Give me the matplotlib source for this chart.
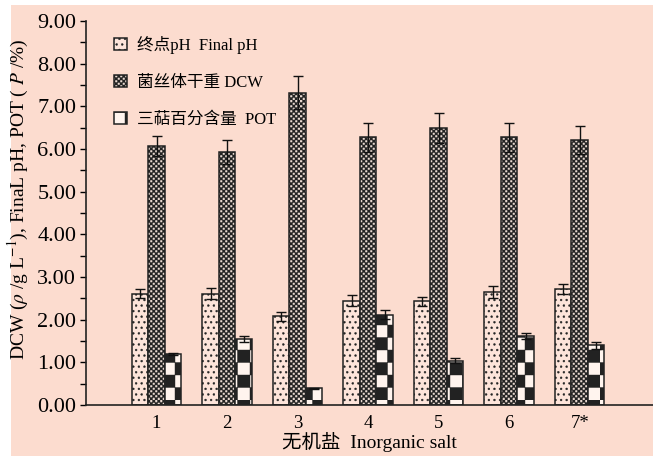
import numpy as np
import matplotlib
matplotlib.use('Agg')
import matplotlib.pyplot as plt
import matplotlib.hatch as mhatch
from matplotlib.path import Path
from matplotlib.patches import Rectangle
from matplotlib.ticker import MultipleLocator, FormatStrFormatter

plt.rcParams['font.family'] = ['Liberation Serif', 'Noto Sans CJK SC']
plt.rcParams['mathtext.fontset'] = 'stix'
plt.rcParams['hatch.linewidth'] = 0.3

# data
groups = ['1', '2', '3', '4', '5', '6', '7*']
final_ph = [2.61, 2.61, 2.08, 2.44, 2.43, 2.65, 2.71]
final_ph_err = [0.11, 0.13, 0.10, 0.13, 0.11, 0.14, 0.12]
dcw = [6.07, 5.93, 7.32, 6.27, 6.49, 6.27, 6.21]
dcw_err = [0.23, 0.28, 0.39, 0.34, 0.36, 0.33, 0.33]
pot = [1.20, 1.54, 0.39, 2.12, 1.04, 1.62, 1.40]
pot_err = [0.03, 0.07, 0.02, 0.10, 0.06, 0.07, 0.08]

labels = ['终点pH  Final pH', '菌丝体干重 DCW', '三萜百分含量  POT']


# checkerboard hatch, takes the place of the '*' (stars) pattern
class CheckerHatch(mhatch.HatchPatternBase):
    sizes = {1: 8, 2: 40}

    def __init__(self, hatch, density):
        c = hatch.count('*')
        self.num = self.sizes.get(c, 8 * c) if c else 0
        self.num_vertices = ((self.num * self.num + 1) // 2) * 5

    def set_vertices_and_codes(self, vertices, codes):
        s = 1.0 / self.num
        k = 0
        for i in range(self.num):
            for j in range(self.num):
                if (i + j) % 2:
                    continue
                x0, y0 = i * s, j * s
                vertices[k:k + 5] = [[x0, y0], [x0 + s, y0], [x0 + s, y0 + s],
                                     [x0, y0 + s], [x0, y0]]
                codes[k:k + 5] = [Path.MOVETO, Path.LINETO, Path.LINETO,
                                  Path.LINETO, Path.CLOSEPOLY]
                k += 5


mhatch._hatch_types[mhatch._hatch_types.index(mhatch.Stars)] = CheckerHatch
mhatch.SmallFilledCircles.size = 0.17

bg = '#fcdccf'
fig = plt.figure(figsize=(6.53, 4.59), dpi=100, facecolor='white')
fig.patches.append(Rectangle((11 / 653, 3 / 459), 1, 1 - 8 / 459,
                             transform=fig.transFigure, facecolor=bg,
                             edgecolor='none', zorder=-10))
ax = fig.add_axes([86 / 653, 54 / 459, 1 - 86 / 653, 384 / 459])
ax.set_facecolor(bg)

x = np.arange(1, len(groups) + 1)
w = 0.234
ekw = dict(ecolor='#111111', elinewidth=1.0, capsize=3.6, capthick=1.0)
ax.bar(x - w, final_ph, w, yerr=final_ph_err, color='#fde4da', edgecolor='#222222',
       hatch='...', linewidth=1.1, label=labels[0], error_kw=ekw)
ax.bar(x, dcw, w, yerr=dcw_err, color='#e8d8d0', edgecolor='#222222',
       hatch='**', linewidth=1.1, label=labels[1], error_kw=ekw)
ax.bar(x + w, pot, w, yerr=pot_err, color='#fff4ee', edgecolor='#222222',
       hatch='*', linewidth=1.1, label=labels[2], error_kw=ekw)

ax.set_xlim(0, 8.04)
ax.set_ylim(0, 9)
ax.set_xticks(x)
ax.set_xticklabels(groups)
ax.yaxis.set_major_locator(MultipleLocator(1))
ax.yaxis.set_minor_locator(MultipleLocator(0.5))
ax.yaxis.set_major_formatter(FormatStrFormatter('%.2f'))
ax.tick_params(axis='y', which='both', direction='out', length=4, width=1,
               labelsize=16, pad=3)
ax.tick_params(axis='x', length=0, labelsize=13.5, pad=7)
for s in ['top', 'right']:
    ax.spines[s].set_visible(False)
for s in ['left', 'bottom']:
    ax.spines[s].set_linewidth(1.2)
    ax.spines[s].set_color('#222222')

ax.set_xlabel('无机盐  Inorganic salt', fontsize=14, labelpad=0)
ax.set_ylabel(r'DCW ($\rho$ /g L$^{-1}$), FinaL pH, POT ( $P$ /%)',
              fontsize=14)
ax.yaxis.set_label_coords(-0.097, 0.535)

ax.legend(loc='upper left', bbox_to_anchor=(0.023, 1.0), frameon=False,
          fontsize=12, handlelength=0.75, handleheight=0.75,
          labelspacing=1.25, handletextpad=0.6)

fig.savefig('out.png', dpi=100, facecolor=fig.get_facecolor())
